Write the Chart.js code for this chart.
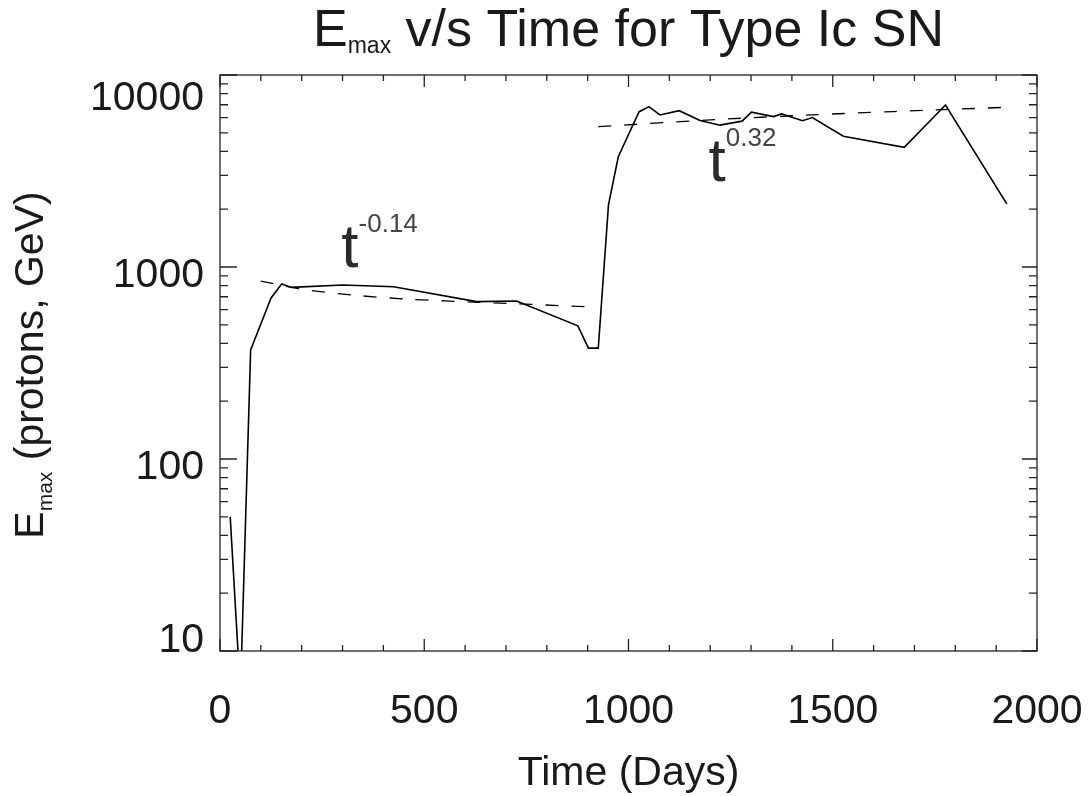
<!DOCTYPE html>
<html>
<head>
<meta charset="utf-8">
<title>Emax v/s Time for Type Ic SN</title>
<script src="https://cdn.jsdelivr.net/npm/chart.js@4.4.1/dist/chart.umd.min.js"></script>
<style>
    html, body { margin: 0; padding: 0; background: #fff; }
    #wrap { width: 1089px; height: 796px; position: relative; }
</style>
</head>
<body>
<div id="wrap"><canvas id="emaxChart"></canvas></div>
<script>
// Emax curve
const days = [25, 50, 75, 125, 151, 175, 300, 425, 628, 726, 876, 902, 926, 951, 975,
              1026, 1050, 1077, 1124, 1175, 1224, 1278, 1301, 1355, 1375, 1426, 1450,
              1526, 1675, 1776, 1926];
const emax = [50, 6, 370, 690, 815, 783, 806, 789, 660, 665, 494, 378, 378, 2105, 3750,
              6440, 6840, 6190, 6520, 5800, 5480, 5750, 6400, 6070, 6270, 5780, 6000,
              4800, 4200, 6980, 2130];

// dashed power-law fits (t^-0.14 early, t^0.32 late)
const fitEarlyDays = [100, 200, 330, 465, 636, 900];
const fitEarlyEmax = [845, 766, 713, 679, 655, 621];
const fitLateDays = [926, 1200, 1450, 1650, 1926];
const fitLateEmax = [5380, 5840, 6200, 6450, 6790];

const xTicks = [0, 500, 1000, 1500, 2000];
const yTicks = [10, 100, 1000, 10000];

const FONT = "'Liberation Sans', Arial, Helvetica, sans-serif";
const INK = '#1a1a1a';

function toXY(xs, ys) {
    return xs.map((x, i) => ({ x: x, y: ys[i] }));
}

// text with a subscript part, e.g. E_max ...; x,y = left/baseline
function drawSubText(ctx, main, sub, rest, x, y, size, subSize, drop) {
    ctx.font = size + 'px ' + FONT;
    ctx.fillText(main, x, y);
    x += ctx.measureText(main).width;
    ctx.font = subSize + 'px ' + FONT;
    ctx.fillText(sub, x, y + drop);
    x += ctx.measureText(sub).width;
    ctx.font = size + 'px ' + FONT;
    ctx.fillText(rest, x, y);
}

function subTextWidth(ctx, main, sub, rest, size, subSize) {
    ctx.font = size + 'px ' + FONT;
    let w = ctx.measureText(main).width + ctx.measureText(rest).width;
    ctx.font = subSize + 'px ' + FONT;
    return w + ctx.measureText(sub).width;
}

function drawPower(ctx, exp, x, y) {
    ctx.fillStyle = '#2b2b2b';
    ctx.font = '62px ' + FONT;
    ctx.fillText('t', x, y);
    const w = ctx.measureText('t').width;
    ctx.font = '26px ' + FONT;
    ctx.fillStyle = '#444';
    ctx.fillText(exp, x + w, y - 35);
}

// IDL-style frame: inward ticks on all four sides, labels and titles
const idlFrame = {
    id: 'idlFrame',
    afterDraw(chart) {
        const ctx = chart.ctx;
        const a = chart.chartArea;
        const sx = chart.scales.x;
        const sy = chart.scales.y;
        ctx.save();

        ctx.strokeStyle = '#222';
        ctx.lineWidth = 1.3;
        ctx.strokeRect(a.left, a.top, a.right - a.left, a.bottom - a.top);

        ctx.beginPath();
        for (let v = 0; v <= 2000; v += 100) {
            const px = sx.getPixelForValue(v);
            const len = v % 500 === 0 ? 12 : 6;
            ctx.moveTo(px, a.bottom); ctx.lineTo(px, a.bottom - len);
            ctx.moveTo(px, a.top); ctx.lineTo(px, a.top + len);
        }
        for (let d = 10; d <= 10000; d *= 10) {
            const py = sy.getPixelForValue(d);
            ctx.moveTo(a.left, py); ctx.lineTo(a.left + 17, py);
            ctx.moveTo(a.right, py); ctx.lineTo(a.right - 15, py);
            if (d === 10000) break;
            for (let m = 2; m <= 9; m++) {
                const pm = sy.getPixelForValue(d * m);
                ctx.moveTo(a.left, pm); ctx.lineTo(a.left + 8, pm);
                ctx.moveTo(a.right, pm); ctx.lineTo(a.right - 8, pm);
            }
        }
        ctx.stroke();

        ctx.fillStyle = INK;
        ctx.font = '41px ' + FONT;
        ctx.textBaseline = 'alphabetic';

        ctx.textAlign = 'center';
        xTicks.forEach(v => ctx.fillText(String(v), sx.getPixelForValue(v), a.bottom + 72));

        ctx.textAlign = 'right';
        yTicks.forEach(v => {
            let base = sy.getPixelForValue(v) + 20;
            base = Math.min(Math.max(base, a.top + 35), a.bottom + 1);
            ctx.fillText(String(v), a.left - 16, base);
        });

        ctx.textAlign = 'center';
        ctx.fillText('Time (Days)', (a.left + a.right) / 2, 785);

        // title
        ctx.textAlign = 'left';
        const tw = subTextWidth(ctx, 'E', 'max', ' v/s Time for Type Ic SN', 52, 23);
        drawSubText(ctx, 'E', 'max', ' v/s Time for Type Ic SN',
            (a.left + a.right) / 2 - tw / 2, 46, 52, 23, 7);

        // y title
        ctx.save();
        ctx.translate(43, 365);
        ctx.rotate(-Math.PI / 2);
        const yw = subTextWidth(ctx, 'E', 'max', ' (protons, GeV)', 41, 21);
        drawSubText(ctx, 'E', 'max', ' (protons, GeV)', -yw / 2, 0, 41, 21, 9);
        ctx.restore();

        // power-law labels
        drawPower(ctx, '-0.14', sx.getPixelForValue(297), sy.getPixelForValue(1000));
        drawPower(ctx, '0.32', sx.getPixelForValue(1196), sy.getPixelForValue(2800));

        ctx.restore();
    }
};

new Chart(document.getElementById('emaxChart'), {
    type: 'line',
    data: {
        datasets: [
            {
                label: 'Emax',
                data: toXY(days, emax),
                borderColor: '#000',
                borderWidth: 1.6,
                pointRadius: 0,
                tension: 0,
            },
            {
                label: 'fit early',
                data: toXY(fitEarlyDays, fitEarlyEmax),
                borderColor: '#000',
                borderWidth: 1.3,
                borderDash: [13, 13],
                pointRadius: 0,
                tension: 0.3,
            },
            {
                label: 'fit late',
                data: toXY(fitLateDays, fitLateEmax),
                borderColor: '#000',
                borderWidth: 1.3,
                borderDash: [13, 13],
                pointRadius: 0,
                tension: 0.3,
            },
        ],
    },
    options: {
        responsive: true,
        maintainAspectRatio: false,
        animation: false,
        layout: {
            padding: { left: 220, top: 75, right: 52, bottom: 145 },
        },
        plugins: {
            legend: { display: false },
            tooltip: { enabled: false },
        },
        scales: {
            x: { type: 'linear', min: 0, max: 2000, display: false },
            y: { type: 'logarithmic', min: 10, max: 10000, display: false },
        },
    },
    plugins: [idlFrame],
});
</script>
</body>
</html>
